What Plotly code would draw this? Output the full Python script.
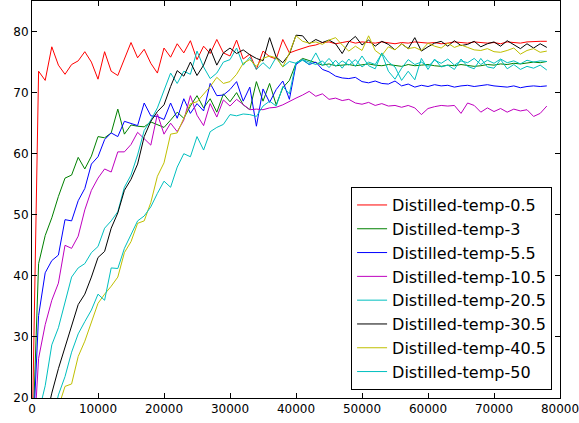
import plotly.graph_objects as go

steps = list(range(0, 78001, 1000))

names = ["Distilled-temp-0.5", "Distilled-temp-3", "Distilled-temp-5.5", "Distilled-temp-10.5",
         "Distilled-temp-20.5", "Distilled-temp-30.5", "Distilled-temp-40.5", "Distilled-temp-50"]
colors = ["#FF0000", "#008000", "#0000FF", "#BF00BF", "#00BFBF", "#000000", "#BFBF00", "#00BFBF"]

temp_0_5 = [
    12.0, 73.5, 72.0, 77.5, 74.5, 73.0, 74.6, 75.2, 76.7, 75.0,
    72.2, 76.7, 73.5, 72.8, 75.5, 78.2, 75.7, 77.1, 74.8, 73.2,
    77.3, 75.8, 78.0, 76.5, 78.5, 75.4, 77.6, 76.4, 78.7, 76.5,
    76.0, 78.6, 75.5, 76.3, 73.8, 76.8, 75.9, 75.5, 78.7, 76.5,
    76.9, 77.3, 77.6, 77.8, 78.2, 78.3, 78.0, 78.2, 78.4, 78.1,
    78.3, 78.2, 78.1, 78.3, 78.2, 78.0, 78.2, 78.1, 78.3, 78.2,
    78.1, 78.2, 78.0, 78.1, 78.3, 78.2, 78.1, 78.3, 78.2, 78.1,
    78.2, 78.0, 78.3, 78.2, 78.1, 78.3, 78.4, 78.4, 78.4]

temp_3 = [
    10.0, 42.0, 46.6, 49.5, 53.0, 56.0, 56.5, 59.4, 57.5, 59.6,
    62.8, 62.6, 63.4, 67.3, 63.2, 64.7, 64.5, 64.4, 65.2, 64.8,
    64.3, 65.5, 66.8, 65.8, 67.8, 69.5, 67.5, 69.0, 66.8, 69.8,
    68.5, 70.0, 68.0, 67.2, 71.8, 68.6, 71.5, 68.0, 70.8, 72.0,
    74.8, 75.6, 75.3, 74.9, 74.5, 74.7, 74.4, 74.5, 74.6, 74.4,
    74.5, 74.7, 74.5, 74.4, 74.6, 74.5, 74.3, 74.6, 74.4, 74.5,
    74.6, 74.4, 74.3, 74.5, 74.4, 74.6, 74.5, 74.3, 74.4, 74.6,
    74.5, 74.7, 74.6, 74.8, 74.7, 74.9, 75.0, 74.9, 75.1]

temp_5_5 = [
    10.0, 33.5, 40.5, 42.5, 43.4, 49.2, 49.0, 52.3, 54.3, 58.3,
    59.5, 62.3, 63.4, 62.8, 65.3, 65.0, 64.6, 68.3, 66.2, 66.1,
    65.6, 68.3, 65.8, 69.0, 66.6, 68.2, 67.0, 71.5, 69.5, 69.6,
    70.5, 71.8, 68.6, 70.9, 64.5, 70.6, 68.4, 70.5, 71.9, 68.9,
    74.6, 75.4, 74.6, 75.0, 73.8, 73.4, 72.7, 72.4, 72.3, 72.5,
    71.8, 71.6, 71.9, 71.5, 71.4, 71.9, 71.1, 71.4, 70.9, 71.2,
    71.0, 71.3, 71.1, 71.2, 70.9, 71.1, 71.2, 71.0, 71.1, 71.3,
    71.1, 71.0, 70.9, 71.1, 70.8, 71.0, 71.1, 71.0, 71.1]

temp_10_5 = [
    8.0, 26.5, 32.0, 36.0, 38.8, 45.0, 44.5, 46.5, 50.8, 54.0,
    56.0, 57.5, 57.0, 60.3, 60.3, 61.5, 63.5, 62.4, 61.4, 66.5,
    63.2, 65.0, 63.6, 65.5, 69.5, 66.3, 64.6, 68.2, 66.0, 68.8,
    67.8, 68.9, 68.0, 67.2, 67.3, 67.2, 67.5, 67.6, 68.0, 68.6,
    69.1, 69.6, 70.2, 69.4, 69.8, 68.9, 69.1, 68.7, 68.9, 68.3,
    68.1, 68.4, 67.9, 68.2, 67.8, 67.9, 67.6, 67.9, 67.5, 66.4,
    67.4, 67.7, 67.9, 67.8, 67.9, 66.6, 68.3, 67.9, 66.8, 67.5,
    66.9, 67.4, 66.8, 67.3, 67.0, 67.2, 66.1, 66.6, 67.8]

temp_20_5 = [
    5.0, 17.5, 22.0, 28.7, 31.5, 35.7, 39.8, 41.3, 42.0, 43.8,
    44.8, 47.8, 49.0, 50.5, 54.5, 56.5, 59.8, 63.8, 65.5, 67.5,
    70.5, 73.2, 71.5, 73.5, 73.0, 76.8, 74.2, 72.3, 73.2, 75.0,
    75.4, 77.3, 74.5, 75.8, 73.8, 74.9, 73.9, 75.8, 74.2, 75.1,
    74.8, 75.3, 74.6, 76.5, 74.4, 75.6, 74.3, 75.2, 74.5, 75.4,
    74.2, 75.0, 74.6, 76.4, 73.5, 72.2, 74.0, 75.4, 74.6, 75.0,
    74.3, 75.3, 74.8, 75.5, 74.5, 75.2, 74.9, 75.6, 74.6, 75.3,
    74.8, 75.5, 74.9, 75.2, 74.7, 75.3, 75.0, 75.2, 75.1]

temp_30_5 = [
    10.0, 12.0, 16.0, 20.8, 24.8, 28.2, 32.0, 35.3, 37.0, 39.8,
    43.0, 44.0, 47.8, 50.3, 54.0, 55.8, 58.3, 62.8, 65.3, 66.9,
    68.0, 71.0, 73.6, 72.7, 75.0, 72.8, 74.5, 77.2, 74.5, 76.5,
    77.3, 76.4, 77.0, 76.2, 75.6, 75.2, 79.0, 75.8, 74.9, 76.3,
    79.4, 79.3, 78.0, 78.7, 78.2, 78.6, 78.0, 76.4, 78.3, 79.2,
    77.8, 78.6, 77.6, 78.4, 77.9, 77.0, 78.0, 77.2, 79.0, 76.8,
    77.5, 78.1, 78.4, 77.6, 78.5, 77.7, 77.9, 78.4, 77.5, 78.0,
    78.3, 77.6, 78.5, 77.8, 77.2, 78.0, 77.3, 78.0, 77.4]

temp_40_5 = [
    10.0, 10.0, 12.0, 15.0, 18.5, 21.9, 22.3, 26.8, 29.3, 32.3,
    35.5, 37.0, 38.3, 39.8, 43.8, 45.6, 48.6, 49.0, 52.0, 56.3,
    58.5, 63.2, 63.4, 65.8, 68.2, 68.5, 69.7, 71.0, 72.5, 71.5,
    71.8, 73.0, 74.8, 75.4, 74.3, 75.6, 76.0, 75.7, 74.2, 76.5,
    79.3, 78.4, 78.1, 78.3, 77.9, 78.6, 79.0, 77.8, 76.8, 77.6,
    76.9, 79.3, 76.9, 76.1, 77.5, 77.0, 78.0, 77.2, 77.4, 76.9,
    78.1, 77.6, 77.3, 78.1, 77.4, 77.8, 77.4, 77.0, 76.9, 77.2,
    76.7, 76.6, 76.9, 77.3, 76.3, 76.9, 77.2, 76.6, 76.8]

temp_50 = [
    10.0, 11.0, 13.0, 16.0, 20.5, 23.5, 27.5, 30.5, 32.5, 34.4,
    37.0, 36.0, 41.3, 41.2, 44.5, 46.8, 49.0, 49.8, 51.3, 53.5,
    55.5, 54.5, 57.8, 60.0, 59.5, 62.8, 60.6, 63.6, 64.3, 64.8,
    66.4, 66.2, 66.5, 66.4, 66.1, 67.8, 68.6, 67.8, 71.0, 69.8,
    74.9, 75.4, 75.0, 74.6, 75.2, 74.1, 75.3, 74.0, 75.5, 74.3,
    76.0, 74.4, 73.9, 76.5, 75.0, 74.2, 72.0, 73.5, 72.1, 75.6,
    73.8, 75.5, 74.2, 74.5, 73.8, 75.5, 74.3, 73.9, 75.6, 74.2,
    74.0, 75.4, 73.9, 74.6, 73.8, 74.3, 74.0, 74.5, 73.7]

series = [temp_0_5, temp_3, temp_5_5, temp_10_5, temp_20_5, temp_30_5, temp_40_5, temp_50]

x_ticks = [0, 10000, 20000, 30000, 40000, 50000, 60000, 70000, 80000]
y_ticks = [20, 30, 40, 50, 60, 70, 80]

fig = go.Figure()
for i, (name, col, vals) in enumerate(zip(names, colors, series)):
    fig.add_trace(go.Scatter(x=steps, y=vals, mode="lines", name=name,
                             line=dict(color=col, width=1)))

axis_common = dict(showline=True, linecolor="black", linewidth=1, mirror="ticks",
                   ticks="inside", ticklen=5, tickcolor="black", showgrid=False,
                   zeroline=False, ticklabeloverflow="allow",
                   tickfont=dict(family="DejaVu Sans", size=12, color="black"))

fig.update_layout(
    width=579, height=423,
    margin=dict(l=32, r=19, t=1, b=25),
    paper_bgcolor="white", plot_bgcolor="white",
    font=dict(family="DejaVu Sans", color="black"),
    xaxis=dict(range=[0, 80000], tickvals=x_ticks, ticktext=[str(v) for v in x_ticks], **axis_common),
    yaxis=dict(range=[20, 85], tickvals=y_ticks, **axis_common),
    legend=dict(x=0.985, y=0.02, xanchor="right", yanchor="bottom",
                bgcolor="white", bordercolor="black", borderwidth=1,
                font=dict(family="DejaVu Sans", size=16, color="black")),
)

fig.write_html("out.html", config={"displayModeBar": False},
               post_script="document.body.style.margin='0';document.body.style.overflow='hidden';")
